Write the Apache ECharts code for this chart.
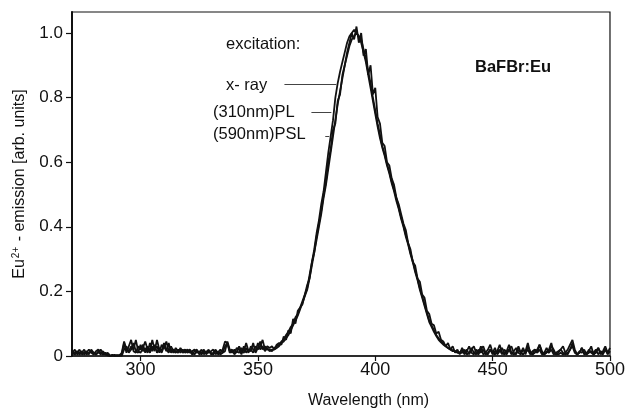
<!DOCTYPE html>
<html>
<head>
<meta charset="utf-8">
<script src="https://cdn.jsdelivr.net/npm/echarts@6/dist/echarts.min.js"></script>
<style>
  html, body { margin: 0; padding: 0; background: #fff; }
  #chart { width: 628px; height: 414px; }
</style>
</head>
<body>
<div id="chart"></div>
<script>
// ── Data (one value per nm, 271..500) ─────────────────────────────────────
const WL_START = 271;   // nm of the first sample
const WL_STEP = 1;      // nm between samples

const X_TICKS = [300, 350, 400, 450, 500];
const Y_TICKS = [0, 0.2, 0.4, 0.6, 0.8, 1.0];

// x-ray excited emission
const XRAY = [
  .01, .02, .005, .01, .015, .005, .01, .02, .01, .005,        // 271-280
  .015, .02, .01, .005, .01, .005, 0, .003, 0, .002,           // 281-290
  0, .005, .04, .01, .03, .05, .015, .01, .03, .02,            // 291-300
  .035, .01, .03, .015, .05, .02, .03, .01, .035, .025,        // 301-310
  .045, .015, .02, .01, .025, .015, .02, .01, .015, .02,       // 311-320
  .01, .015, .02, .01, .015, .005, .015, .01, .02, .005,       // 321-330
  .01, .02, .005, .01, .02, .045, .04, .01, .015, .01,         // 331-340
  .025, .02, .005, .03, .01, .02, .015, .04, .01, .025,        // 341-350
  .045, .02, .03, .02, .02, .015, .025, .03, .035, .045,       // 351-360
  .05, .065, .075, .09, .10, .12, .13, .15, .17, .19,          // 361-370
  .21, .25, .29, .33, .38, .42, .47, .51, .57, .63,            // 371-380
  .68, .73, .80, .845, .88, .91, .94, .97, .99, 1.0,           // 381-390
  1.01, 1.0, .99, .97, .94, .91, .87, .83, .79, .75,           // 391-400
  .71, .675, .645, .62, .59, .565, .535, .51, .48, .455,       // 401-410
  .425, .40, .37, .345, .315, .29, .26, .235, .205, .18,       // 411-420
  .155, .13, .105, .09, .075, .062, .05, .042, .035, .03,      // 421-430
  .025, .02, .018, .015, .012, .01, .02, .005, .015, .03,      // 431-440
  .01, .005, .02, .01, .03, .005, .01, .02, .035, .01,         // 441-450
  .005, .015, .035, .01, .005, .015, .035, .01, .005, .01,     // 451-460
  .03, .01, .005, .015, .04, .01, .005, .01, .02, .035,        // 461-470
  .01, .005, .01, .02, .04, .01, .005, .005, .01, .005,        // 471-480
  .01, .02, .035, .05, .02, .005, .01, .025, .005, .01,        // 481-490
  .015, .03, .005, .01, .025, .005, .015, .03, .01, .025       // 491-500
];

// (310nm) photoluminescence
const PL = [
  .005, .01, .015, .005, .01, .02, .005, .01, .015, .01,
  .005, .01, .02, .01, .005, .01, .002, 0, .004, 0,
  .003, 0, .02, .03, .01, .02, .04, .015, .01, .035,
  .015, .025, .01, .04, .015, .035, .01, .025, .015, .04,
  .02, .01, .03, .015, .01, .02, .01, .02, .01, .015,
  .02, .01, .005, .015, .01, .02, .005, .015, .01, .015,
  .02, .005, .015, .005, .01, .015, .045, .02, .01, .02,
  .01, .03, .015, .01, .025, .01, .03, .02, .015, .04,
  .02, .03, .015, .025, .015, .02, .02, .025, .03, .04,
  .045, .055, .065, .08, .095, .11, .125, .145, .165, .185,
  .205, .24, .28, .32, .36, .40, .44, .49, .53, .58,
  .63, .68, .73, .78, .82, .86, .90, .93, .96, .98,
  .99, 1.0, .99, .98, .95, .92, .88, .845, .80, .76,
  .72, .685, .65, .625, .595, .57, .54, .515, .49, .46,
  .43, .405, .375, .35, .32, .295, .265, .24, .21, .185,
  .16, .135, .11, .095, .08, .065, .055, .045, .04, .03,
  .025, .02, .015, .015, .01, .01, .01, .02, .005, .01,
  .025, .01, .005, .02, .01, .02, .005, .01, .02, .005,
  .015, .01, .02, .005, .02, .01, .02, .005, .015, .025,
  .01, .005, .02, .01, .02, .005, .015, .02, .01, .02,
  .005, .01, .025, .01, .02, .005, .01, .015, .02, .01,
  .005, .01, .02, .03, .01, .005, .015, .01, .02, .005,
  .01, .015, .01, .02, .005, .015, .01, .02, .005, .015
];

// (590nm) photostimulated luminescence
const PSL = [
  .015, .005, .01, .02, .005, .01, .015, .005, .02, .01,
  .005, .015, .005, .015, .005, .002, 0, .004, 0, .003,
  .002, .01, .045, .02, .015, .03, .02, .05, .015, .01,
  .025, .045, .02, .01, .03, .015, .05, .02, .01, .03,
  .015, .04, .01, .02, .015, .01, .025, .015, .02, .01,
  .015, .005, .015, .02, .005, .01, .02, .005, .015, .01,
  .005, .015, .01, .02, .01, .03, .04, .015, .02, .005,
  .015, .01, .025, .015, .04, .015, .02, .01, .03, .02,
  .03, .05, .02, .03, .025, .03, .02, .035, .04, .035,
  .06, .05, .08, .07, .115, .10, .14, .15, .16, .19,
  .22, .24, .29, .32, .37, .41, .45, .50, .54, .60,
  .64, .70, .72, .79, .81, .87, .90, .94, .97, 1.0,
  .98, 1.02, .97, 1.0, .93, .95, .87, .90, .81, .83,
  .74, .72, .66, .65, .60, .59, .55, .53, .49, .47,
  .44, .41, .39, .35, .33, .29, .28, .24, .23, .19,
  .18, .14, .13, .10, .095, .07, .075, .05, .045, .03,
  .04, .02, .03, .01, .02, .005, .025, .01, .02, .005,
  .02, .03, .01, .005, .02, .03, .01, .005, .02, .01,
  .025, .005, .015, .025, .01, .005, .02, .03, .01, .005,
  .02, .01, .025, .005, .03, .015, .005, .02, .01, .035,
  .015, .005, .015, .01, .03, .02, .005, .01, .02, .03,
  .01, .005, .02, .04, .015, .005, .01, .025, .01, .005,
  .02, .01, .005, .015, .025, .01, .005, .02, .01, .015
];

// leader lines from the excitation labels to the curves: [fromNm, toNm, value]
const LEADERS = [
  [361.3, 383.4, 0.84],   // x- ray
  [372.8, 381.3, 0.756],  // (310nm)PL
  [378.7, 380.4, 0.68],   // (590nm)PSL
];

// ── Chart ──────────────────────────────────────────────────────────────────
const FONT = "'Liberation Sans', Arial, Helvetica, sans-serif";
const INK = '#111';

const toPoints = (values) => values.map((v, i) => [WL_START + i * WL_STEP, v]);

const traceSeries = (name, values) => ({
  name,
  type: 'line',
  data: toPoints(values),
  showSymbol: false,
  silent: true,
  lineStyle: { color: INK, width: 1.8 },
});

const chart = echarts.init(document.getElementById('chart'), null, { renderer: 'canvas' });

const xray = traceSeries('x- ray', XRAY);
xray.markLine = {
  silent: true,
  symbol: ['none', 'none'],
  label: { show: false },
  lineStyle: { color: '#444', width: 1, type: 'solid' },
  data: LEADERS.map(([a, b, y]) => [{ coord: [a, y] }, { coord: [b, y] }]),
};

chart.setOption({
  animation: false,
  backgroundColor: '#fff',
  grid: {
    left: 72, right: 16, top: 12, bottom: 57,
    show: true, borderColor: INK, borderWidth: 1.2, backgroundColor: 'transparent',
  },
  xAxis: {
    type: 'value',
    min: 270.8,
    max: 500,
    name: 'Wavelength (nm)',
    nameLocation: 'middle',
    nameGap: 37,
    nameTextStyle: { fontFamily: FONT, fontSize: 16, color: INK, padding: [0, 0, 0, 55] },
    axisLine: { lineStyle: { color: INK, width: 1.5 } },
    axisTick: { inside: false, length: 5, lineStyle: { color: INK, width: 1.2 }, customValues: X_TICKS },
    axisLabel: { fontFamily: FONT, fontSize: 18, color: INK, margin: 5, customValues: X_TICKS },
    splitLine: { show: false },
  },
  yAxis: {
    type: 'value',
    min: 0,
    max: 1.065,
    name: 'Eu{s|2+} - emission [arb. units]',
    nameLocation: 'middle',
    nameRotate: 90,
    nameGap: 43,
    nameTextStyle: {
      fontFamily: FONT, fontSize: 16, color: INK,
      rich: { s: { fontFamily: FONT, fontSize: 10, color: INK, verticalAlign: 'top', padding: [0, 1, 8, 1] } },
    },
    axisLine: { lineStyle: { color: INK, width: 2 } },
    axisTick: { inside: false, length: 6, lineStyle: { color: INK, width: 1.2 }, customValues: Y_TICKS },
    axisLabel: {
      fontFamily: FONT, fontSize: 17, color: INK, margin: 9, customValues: Y_TICKS,
      formatter: (v) => (v === 0 ? '0' : v.toFixed(1)),
    },
    splitLine: { show: false },
  },
  graphic: [
    { type: 'text', x: 226, y: 44, style: { text: 'excitation:', font: `16.5px ${FONT}`, fill: INK, verticalAlign: 'middle' } },
    { type: 'text', x: 226, y: 85, style: { text: 'x- ray', font: `16.5px ${FONT}`, fill: INK, verticalAlign: 'middle' } },
    { type: 'text', x: 213, y: 112, style: { text: '(310nm)PL', font: `16.5px ${FONT}`, fill: INK, verticalAlign: 'middle' } },
    { type: 'text', x: 213, y: 134, style: { text: '(590nm)PSL', font: `16.5px ${FONT}`, fill: INK, verticalAlign: 'middle' } },
    { type: 'text', x: 475, y: 67, style: { text: 'BaFBr:Eu', font: `bold 16.5px ${FONT}`, fill: INK, verticalAlign: 'middle' } },
  ],
  series: [
    xray,
    traceSeries('(310nm)PL', PL),
    traceSeries('(590nm)PSL', PSL),
  ],
});
</script>
</body>
</html>
